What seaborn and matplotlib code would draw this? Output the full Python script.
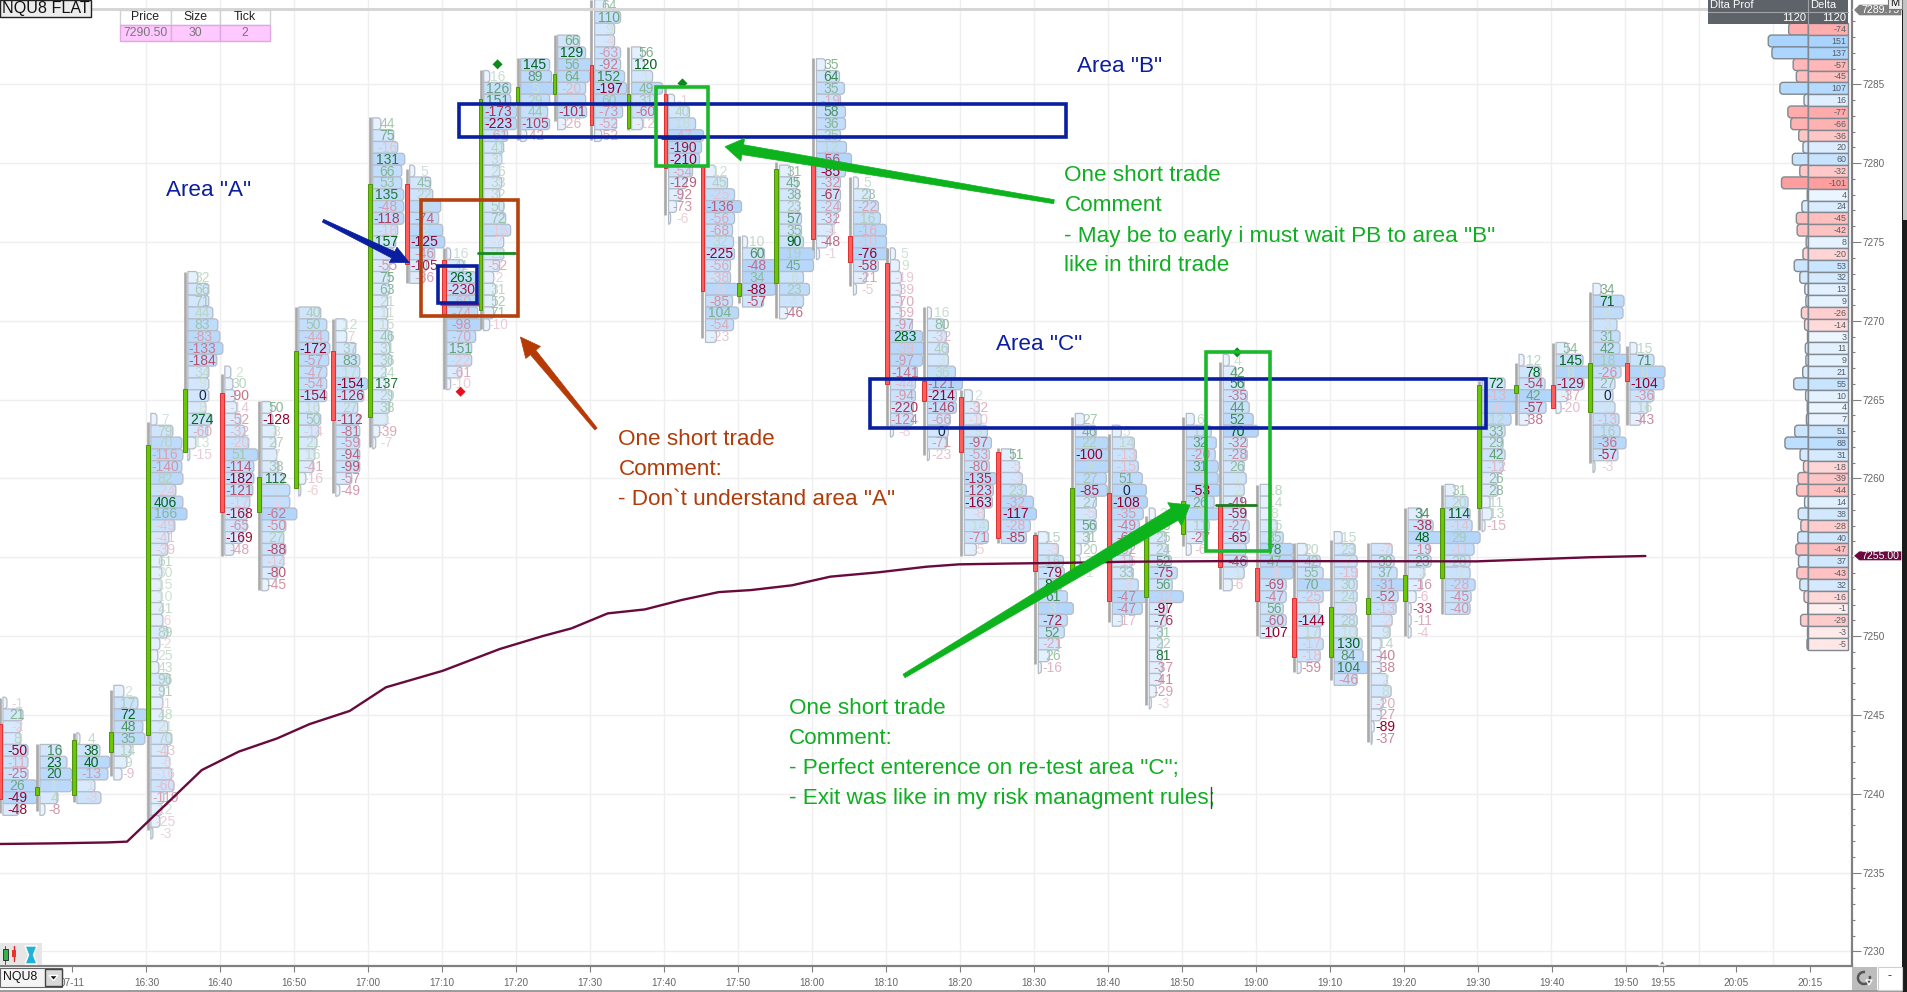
import matplotlib
matplotlib.use('Agg')
import matplotlib.pyplot as plt
import seaborn as sns
from matplotlib.path import Path
from matplotlib.patches import PathPatch, Rectangle, Polygon, Arc
from matplotlib.colors import to_rgb
import numpy as np

sns.set_theme(style='white')
plt.rcParams['font.family'] = ['Liberation Sans', 'DejaVu Sans']

# minutes since midnight for every 5 minute footprint bar, 16:10 -> 19:50
bar_times = list(range(970, 1195, 5))
bar_tops = [7245.75, 7242.75, 7243.5, 7246.5, 7263.75, 7272.75, 7266.75, 7264.5, 7270.5, 7269.75,
            7282.5, 7279.5, 7274.25, 7285.5, 7286.25, 7287.75, 7290, 7287, 7284, 7279.5,
            7275, 7279.5, 7286.25, 7278.75, 7274.25, 7270.5, 7265.25, 7261.5, 7256.25, 7263.75,
            7263, 7257.75, 7263.75, 7267.5, 7259.25, 7255.5, 7256.25, 7255.5, 7257.75, 7259.25,
            7266, 7267.5, 7268.25, 7272, 7268.25]
body_colors = ['r', 'g', 'g', 'g', 'g', 'g', 'r', 'g', 'g', 'r',
               'g', 'r', 'r', 'g', 'g', 'g', 'r', 'g', 'r', 'r',
               'g', 'g', 'r', 'r', 'r', 'r', 'r', 'r', 'r', 'g',
               'r', 'g', 'g', 'r', 'r', 'r', 'g', 'g', 'g', 'g',
               'g', 'g', 'r', 'g', 'r']
body_high = [7244.4, 7240.4, 7243.4, 7243.9, 7262.1, 7265.7, 7265.4, 7260.1, 7268.1, 7268.1,
             7278.7, 7278.7, 7273.85, 7284.1, 7284.85, 7285.65, 7286.2, 7284.4, 7284.4, 7279.8,
             7272.4, 7279.6, 7279.9, 7275.4, 7273.65, 7266.2, 7265.15, 7261.65, 7256.4, 7259.4,
             7259.1, 7256.4, 7258.6, 7258.3, 7254.35, 7252.4, 7251.85, 7252.4, 7253.9, 7258.1,
             7265.9, 7265.9, 7265.9, 7267.35, 7267.35]
body_low = [7239.65, 7239.95, 7239.95, 7242.65, 7243.7, 7261.7, 7257.9, 7257.9, 7259.4, 7263.7,
            7263.9, 7273.6, 7270.4, 7270.7, 7283.9, 7284.4, 7282.4, 7282.2, 7279.7, 7271.9,
            7271.6, 7272.4, 7275.2, 7273.7, 7266, 7264.9, 7261.7, 7256.2, 7254.15, 7254.15,
            7252.2, 7252.45, 7256.45, 7254.4, 7252.2, 7248.7, 7248.7, 7251.4, 7252.2, 7253.7,
            7258.15, 7265.45, 7264.45, 7264.2, 7266.15]
wick_high = [7246.1, 7243.15, 7243.85, 7246.6, 7263.6, 7273.1, 7266.6, 7264.9, 7270.9, 7270.1,
             7282.95, 7279.6, 7274.6, 7285.9, 7286.65, 7288.1, 7290.35, 7287.4, 7284.85, 7279.9,
             7275.4, 7280.1, 7286.65, 7279.1, 7274.6, 7270.9, 7265.6, 7261.9, 7256.6, 7263.9,
             7262.85, 7257.6, 7263.9, 7267.4, 7259.6, 7255.9, 7256.1, 7255.9, 7258.1, 7259.6,
             7266.2, 7267.35, 7268.6, 7271.85, 7268.4]
wick_low = [7238.75, 7238.9, 7239.45, 7241.1, 7237.7, 7261.8, 7255.1, 7252.9, 7259.4, 7259.1,
            7262, 7272.4, 7265.7, 7269.5, 7281.5, 7282.7, 7281.5, 7282.1, 7276.7, 7268.9,
            7271.1, 7270.2, 7274.5, 7272.2, 7263.3, 7261.5, 7255.1, 7255.9, 7248.2, 7254.2,
            7250.9, 7245.6, 7255.7, 7253, 7250, 7247.7, 7247.2, 7243.3, 7250, 7251.4,
            7256.7, 7263.4, 7264.45, 7260.95, 7263.4]

# delta per price row, top row first
bar_deltas = [
    [-1, 21, -2, 8, -50, -11, -25, 26, -49, -48],
    [16, 23, 20, 1, 4, -8],
    [4, 38, 40, -13, 1, -3],
    [2, 17, 72, 48, 35, 14, 9, -9],
    [7, 79, 70, -116, -140, 82, -24, 406, 166, -49, -41, -39, 61, 30, 15, 10, 41, -6, 89, -2, 25, 43, 96, 91, -1, 48, 21, 70, -43, -6, -16, -60, -119, 12, -25, -3],
    [32, 66, 71, 44, 83, -83, -133, -184, 34, 9, 0, 8, 274, -60, 13, -15],
    [2, 30, -90, -14, -52, -32, -20, 51, -114, -182, -121, -17, -168, -65, -169, -48],
    [50, -128, 8, 27, 7, 38, 112, 7, -2, -62, -50, 27, -88, -14, -80, -45],
    [40, 50, -44, -172, -57, -47, -54, -154, 16, 50, -14, 21, 16, -41, -16, -6],
    [12, -7, 37, 83, 17, -154, -126, 27, -112, -81, -59, -94, -99, -57, -49],
    [44, 75, -16, 131, 66, 53, 135, -48, -118, -18, 157, -9, -55, 75, 63, 21, 11, 15, 46, 31, 36, 24, 137, 29, 38, 1, -39, -7],
    [5, 45, 22, 10, -74, 2, -125, -46, -105, -36],
    [16, 41, 263, -230, -60, -74, -98, -70, 151, -22, -61, -10],
    [16, 126, 151, -173, -223, -61, 41, 31, 26, 33, 32, 50, 72, -15, -7, 22, -52, -2, 31, 52, 71, -10],
    [145, 89, 5, 29, 44, -105, -42],
    [66, 129, 56, 64, -20, -1, -101, -26],
    [64, 110, 9, -4, -63, -92, 152, -197, 60, -73, -52, -52],
    [56, 120, 1, 49, 31, -60, -12],
    [-1, 40, 18, -47, -190, -210, -54, -129, -92, -73, -6],
    [12, 45, -25, -136, -56, -68, 32, -225, -56, -38, -9, -85, 104, -54, -23],
    [10, 60, -48, 34, -88, -57],
    [31, 45, 38, 23, 57, 35, 90, 19, 45, 6, 23, 4, -46],
    [35, 64, 35, -19, 58, 36, 25, 12, -56, -85, -32, -67, -24, -32, -4, -48, -1],
    [5, 23, -22, 16, -16, -10, -76, -58, -21, -5],
    [5, 9, -19, -39, -70, -59, -97, 283, -39, -97, -141, -44, -94, -220, -124, -8],
    [16, 80, -32, 46, 3, 36, -121, -214, -146, -66, 0, -71, -23],
    [2, -32, -10, 9, -97, -53, -80, -135, -123, -163, -8, 14, -71, -5],
    [51, -5, -3, 23, -32, -117, -28, -85],
    [15, -3, 16, -79, 84, 61, 3, -72, 52, -21, 26, -16],
    [27, 46, 22, -100, 9, 27, -85, 27, -5, 56, 31, 20, 7, 1],
    [5, 14, -13, -15, 51, 0, -108, -35, -49, -63, -32, -15, 33, -3, -47, -47, -17],
    [2, 33, 25, 24, 52, -75, 56, -12, -97, -76, 31, 22, 81, -37, -41, -29, -3],
    [6, 11, 32, -20, 31, -3, -53, 26, 7, 11, -27, -6],
    [4, 42, 56, -35, 44, 52, 70, -32, -28, 26, 1, 2, -49, -59, -27, -65, -1, -46, 1, -6],
    [18, 14, 8, 15, 35, 78, 47, -6, -69, -47, 56, -60, -107],
    [20, 42, 55, 70, -25, -1, -144, 17, -17, -18, -59],
    [15, 23, 7, -19, 30, 24, -4, 28, 10, 130, 84, 104, -46],
    [-7, 39, 37, -31, -52, -13, -2, 9, 14, -40, -38, 2, 8, -20, -27, -89, -37],
    [34, -38, 48, -19, 23, 3, -16, -6, -33, -11, -4],
    [31, 20, 114, -14, 29, -11, 28, 3, -28, -45, -40],
    [72, -13, -6, 12, 33, 29, 42, -12, 26, 28, 11, 13, -15],
    [12, 78, -54, 42, -57, -38],
    [54, 145, 8, -129, -37, -20],
    [34, 71, 4, 3, 31, 42, 18, -26, 27, 0, 2, -13, 16, -36, -57, -3],
    [15, 71, 8, -104, -36, 16, -43],
]
# volume profile length per row (same order)
bar_sizes = [
    [4, 20, 18, 18, 25, 25, 25, 34, 34, 16],
    [21, 27, 32, 32, 18, 5],
    [3, 23, 33, 31, 18, 24],
    [10, 24, 33, 29, 31, 17, 13, 8],
    [6, 22, 31, 32, 31, 32, 25, 32, 36, 24, 18, 17, 11, 11, 11, 11, 12, 12, 17, 9, 7, 8, 19, 13, 12, 12, 17, 21, 17, 19, 21, 23, 13, 11, 9, 2],
    [10, 21, 21, 25, 30, 32, 35, 29, 21, 21, 21, 18, 24, 20, 8, 2],
    [6, 8, 10, 12, 16, 20, 24, 33, 29, 29, 28, 25, 23, 22, 18, 9],
    [10, 11, 14, 14, 15, 17, 22, 28, 28, 35, 24, 22, 24, 22, 16, 7],
    [22, 28, 30, 31, 30, 28, 28, 28, 20, 22, 20, 18, 16, 15, 7, 2],
    [11, 11, 20, 24, 24, 32, 28, 22, 24, 24, 24, 24, 24, 16, 4],
    [8, 21, 25, 32, 29, 29, 31, 31, 31, 25, 23, 21, 17, 17, 17, 15, 15, 15, 19, 17, 19, 13, 13, 19, 17, 15, 7, 3],
    [5, 21, 23, 31, 29, 33, 35, 25, 17, 15],
    [4, 17, 29, 29, 33, 31, 35, 29, 25, 25, 15, 4],
    [6, 27, 27, 33, 33, 24, 20, 18, 16, 18, 16, 20, 22, 27, 20, 20, 16, 10, 12, 12, 10, 6],
    [29, 31, 35, 29, 27, 29, 6],
    [22, 28, 34, 32, 28, 28, 29, 8],
    [11, 26, 20, 20, 26, 26, 30, 32, 34, 28, 22, 7],
    [11, 13, 21, 31, 23, 25, 11],
    [6, 21, 27, 35, 33, 31, 24, 18, 14, 8, 2],
    [10, 22, 29, 36, 29, 27, 28, 29, 25, 25, 33, 27, 33, 28, 11],
    [5, 22, 35, 35, 33, 21],
    [11, 18, 20, 20, 22, 22, 24, 35, 34, 24, 30, 24, 8],
    [9, 23, 28, 24, 29, 29, 24, 30, 35, 29, 24, 24, 24, 20, 16, 11, 3],
    [5, 17, 25, 27, 33, 33, 35, 25, 13, 3],
    [5, 9, 11, 11, 11, 11, 22, 32, 34, 32, 27, 25, 25, 23, 23, 3],
    [4, 17, 19, 21, 21, 28, 35, 29, 29, 23, 21, 19, 2],
    [8, 15, 17, 23, 27, 25, 25, 32, 29, 28, 20, 24, 24, 12],
    [12, 18, 21, 25, 32, 35, 29, 25],
    [10, 20, 25, 26, 23, 29, 35, 29, 26, 21, 11, 3],
    [9, 21, 33, 34, 34, 31, 32, 21, 21, 21, 14, 6, 5, 1],
    [9, 22, 24, 26, 30, 34, 35, 31, 27, 23, 19, 20, 21, 26, 34, 30, 10],
    [6, 11, 17, 18, 22, 28, 23, 34, 18, 17, 13, 13, 13, 13, 12, 7, 2],
    [8, 25, 30, 29, 32, 32, 34, 28, 33, 23, 17, 5],
    [6, 13, 21, 24, 26, 30, 35, 24, 24, 21, 23, 21, 19, 23, 26, 26, 23, 24, 21, 9],
    [10, 10, 10, 17, 23, 33, 33, 33, 26, 26, 23, 26, 13],
    [10, 23, 26, 34, 26, 22, 26, 23, 26, 23, 4],
    [8, 21, 23, 23, 23, 23, 22, 23, 23, 28, 29, 34, 23],
    [21, 23, 26, 34, 27, 25, 21, 19, 10, 10, 10, 16, 20, 12, 10, 3, 1],
    [14, 25, 34, 21, 23, 16, 14, 8, 3, 3, 3],
    [10, 23, 25, 27, 35, 29, 25, 25, 30, 26, 25],
    [23, 35, 34, 29, 23, 21, 23, 21, 16, 16, 8, 10, 3],
    [5, 22, 26, 36, 27, 10],
    [12, 27, 37, 28, 12, 5],
    [8, 31, 30, 24, 27, 27, 35, 28, 22, 20, 22, 26, 27, 33, 25, 2],
    [7, 24, 35, 34, 24, 18, 11],
]

# VWAP style line
vwap_times = [970, 977.2, 984.6, 987.2, 997.3, 1002.3, 1007.5, 1011.9, 1017.3, 1022.2, 1029.9, 1037.6, 1043.4, 1047.3,
              1052.2, 1057.2, 1062.2, 1067.2, 1071.6, 1077.1, 1082.3, 1088.7, 1095.3, 1099.7, 1106.3, 1114.6, 1122.8,
              1137.7, 1169.7, 1177.3, 1185, 1192.5]
vwap_prices = [7236.81, 7236.85, 7236.91, 7236.96, 7241.5, 7242.67, 7243.51, 7244.42, 7245.25, 7246.75, 7247.8, 7249.18,
               7250.0, 7250.49, 7251.44, 7251.69, 7252.29, 7252.79, 7252.92, 7253.22, 7253.77, 7254.04, 7254.4, 7254.55,
               7254.6, 7254.65, 7254.72, 7254.76, 7254.74, 7254.87, 7255.0, 7255.08]

# session delta profile on the right
delta_top = 7288.5
delta_values = [-74, 151, 137, -57, -45, 107, 16, -77, -66, -36, 20, 60, -32, -101, 4, 24, -45, -42, 8, -20,
                53, 32, 13, 9, -26, -14, 3, 11, 9, 21, 55, 10, 4, 7, 51, 88, 31, -18, -39, -44,
                14, 38, -28, 40, -47, 37, -43, 32, -16, -1, -29, -3, -5]

marker_times = [1032.3, 1037.3, 1062.3, 1137.3]
marker_prices = [7265.5, 7286.27, 7285.06, 7268.0]
marker_kinds = ['red', 'green', 'green', 'green']

tick_times = list(range(980, 1191, 10)) + [1195, 1205, 1215]
tick_labels = ['07-11'] + ['%d:%02d' % (m // 60, m % 60) for m in range(990, 1191, 10)] + ['19:55', '20:05', '20:15']
grid_times = list(range(990, 1211, 10)) + [1195]

PX_W, PX_H = 1908, 992
AX_R, AX_B = 1851.7, 965.7
T0 = 970.02
T1 = 1220.4
P_TOP = 7290.35
P_BOT = 7229.09
ROW = 0.75
PX_MIN = AX_R / (T1 - T0)


def mix(color, base, f):
    c, b = np.array(to_rgb(color)), np.array(to_rgb(base))
    return tuple(b + (c - b) * f)


def delta_color(v, top):
    # the platform shades each number against the biggest delta of its own bar
    if v == 0:
        return '#16284a'
    f = 0.17 + 0.83 * (abs(v) / top) ** 1.15
    return mix('#00631c' if v > 0 else '#93002a', '#ffffff', f)


def row_patch(ax, x0, price, w, face, edge, sign=1, lw=0.9, z=2):
    # profile row: flat at the candle side, rounded at the far end
    top, bot = price + ROW / 2, price - ROW / 2
    rx = min(abs(w), 0.42) * sign
    ry = 0.2
    x1 = x0 + w * sign
    verts = [(x0, bot), (x1 - rx, bot), (x1, bot), (x1, bot + ry), (x1, top - ry), (x1, top), (x1 - rx, top), (x0, top), (x0, bot)]
    codes = [Path.MOVETO, Path.LINETO, Path.CURVE3, Path.CURVE3, Path.LINETO, Path.CURVE3, Path.CURVE3, Path.LINETO, Path.CLOSEPOLY]
    ax.add_patch(PathPatch(Path(verts, codes), facecolor=face, edgecolor=edge, lw=lw, zorder=z))


fig = plt.figure(figsize=(PX_W / 100, PX_H / 100), dpi=100, facecolor='white')
ax = fig.add_axes([0, (PX_H - AX_B) / PX_H, AX_R / PX_W, AX_B / PX_H])
ax.set_xlim(T0, T1)
ax.set_ylim(P_BOT, P_TOP)
ax.set_facecolor('white')

for t in grid_times:
    ax.axvline(t - 0.2, color='#efefef', lw=1.0, zorder=0)
for p in range(7230, 7290, 5):
    ax.axhline(p, color='#efefef', lw=1.0, zorder=0)

# footprint bars
for i, t in enumerate(bar_times):
    for j, (d, s) in enumerate(zip(bar_deltas[i], bar_sizes[i])):
        price = bar_tops[i] - ROW * j
        f = min(s / 36, 1) ** 1.4
        row_patch(ax, t + 0.42, price, s / PX_MIN, mix('#b2d5fb', '#eff6fe', f), '#b4bcc8', z=2 + i * 0.001)
    biggest = max(abs(d) for d in bar_deltas[i])
    for j, d in enumerate(bar_deltas[i]):
        ax.text(t + 2.35, bar_tops[i] - ROW * j - 0.03, str(d), color=delta_color(d, biggest), fontsize=10,
                ha='center', va='center', zorder=3, clip_on=True)
    ax.plot([t, t], [wick_low[i], wick_high[i]], color='#a9a9a9', lw=1.9, solid_capstyle='butt', zorder=3.5)
    up = body_colors[i] == 'g'
    ax.bar(t, body_high[i] - body_low[i], bottom=body_low[i], width=0.52,
           color='#69c800' if up else '#ff5c5c', edgecolor='#4f8f12' if up else '#d93030', lw=0.7, zorder=4)

sns.lineplot(x=vwap_times, y=vwap_prices, color='#680a3c', lw=1.7, ax=ax, legend=False, zorder=4.5, estimator=None)

marker_df = {'t': marker_times, 'p': marker_prices, 'k': marker_kinds}
sns.scatterplot(data=marker_df, x='t', y='p', hue='k', palette={'red': '#e8101c', 'green': '#0b8a1a'}, marker='D', s=26,
                edgecolor='none', ax=ax, legend=False, zorder=5)

# trade marks
ax.plot([1029.6, 1034.7], [7271.07, 7271.07], color='#ee1c25', lw=2, zorder=5)
ax.plot([1034.6, 1039.6], [7274.3, 7274.3], color='#168a1e', lw=2, zorder=5)
ax.plot([1059.6, 1064.7], [7281.6, 7281.6], color='#0b3d22', lw=2, zorder=5)
ax.plot([1134.5, 1139.8], [7258.3, 7258.3], color='#1f7a1f', lw=2, zorder=5)

# delta column, right hand side
d_x0 = 990 + (1808.3 - 147.8) / PX_MIN
d_w = 40 / PX_MIN
for i, v in enumerate(delta_values):
    price = delta_top - ROW * i
    f = min(abs(v) / 150, 1) ** 0.55
    face = mix('#a8d4ff', '#f6faff', f) if v >= 0 else mix('#ff9c9c', '#fff5f5', min(abs(v) / 105, 1) ** 0.6)
    row_patch(ax, d_x0, price, abs(v) * 0.265 / PX_MIN, face, '#808890', sign=-1, lw=1.0, z=3)
    ax.add_patch(Rectangle((d_x0, price - ROW / 2), d_w, ROW, facecolor=face, edgecolor='#808890', lw=1.0, zorder=3.1))
    ax.text(d_x0 + d_w - 0.2, price - 0.03, str(v), color='#555b60', fontsize=6.4, ha='right', va='center', zorder=3.2)

# hand drawn boxes
boxes = [(1032.1, 1114.2, 7281.68, 7283.75, '#0a1ea0'),
         (1087.7, 1171.0, 7263.2, 7266.3, '#0a1ea0'),
         (1029.2, 1034.5, 7271.15, 7273.5, '#0a1ea0'),
         (1027.0, 1040.0, 7270.3, 7277.66, '#b5410f'),
         (1058.7, 1065.8, 7279.84, 7284.85, '#1cb82c'),
         (1133.1, 1141.7, 7255.4, 7268.0, '#1cb82c')]
for x0, x1, y0, y1, c in boxes:
    ax.add_patch(Rectangle((x0, y0), x1 - x0, y1 - y0, fill=False, edgecolor=c, lw=2.6, zorder=6))

# axes
sns.despine(ax=ax, left=True, top=True, right=False, bottom=False)
for s in ('right', 'bottom'):
    ax.spines[s].set_color('#808080')
    ax.spines[s].set_linewidth(1.6)
ax.yaxis.tick_right()
ax.set_yticks(list(range(7230, 7290, 5)))
ax.set_yticks(list(range(7230, 7290)), minor=True)
ax.tick_params(axis='y', which='major', right=True, length=6.5, width=0.8, color='#808080', labelsize=7.2, labelcolor='#666666', pad=1)
ax.tick_params(axis='y', which='minor', right=True, length=2.4, width=0.8, color='#808080')
ax.set_xticks([t - 0.18 for t in tick_times])
ax.set_xticklabels(tick_labels)
ax.tick_params(axis='x', which='major', bottom=True, length=4.5, width=0.8, color='#808080', labelsize=7.2, labelcolor='#666666', pad=4.5)

# everything else is screen furniture, laid out in pixels
ui = fig.add_axes([0, 0, 1, 1], zorder=5)
ui.set_xlim(0, PX_W)
ui.set_ylim(PX_H, 0)
ui.axis('off')
ui.patch.set_alpha(0)


def box(x0, y0, x1, y1, face, edge='none', lw=0.8, z=1):
    ui.add_patch(Rectangle((x0, y0), x1 - x0, y1 - y0, facecolor=face, edgecolor=edge, lw=lw, zorder=z))


def arrow(x0, y0, x1, y1, w0, w1, hl, hw, color):
    # shaft widens toward the head, like the drawing tool of the platform
    d = np.array([x1 - x0, y1 - y0], float)
    d /= np.hypot(*d)
    n = np.array([-d[1], d[0]])
    a, b = np.array([x0, y0]), np.array([x1, y1])
    neck = b - d * hl
    pts = [a + n * w0 / 2, neck + n * w1 / 2, neck + n * hw / 2, b, neck - n * hw / 2, neck - n * w1 / 2, a - n * w0 / 2]
    ui.add_patch(Polygon(pts, closed=True, facecolor=color, edgecolor=color, lw=0.5, zorder=3))


box(0, 7.5, 1708, 11, '#d6d6d6', z=0.5)
box(0, 0, 91, 16.5, '#ececec', '#222222', 1.0)
ui.text(2, 8.5, 'NQU8 FLAT', fontsize=11.6, color='#111111', ha='left', va='center')

# quote table
tab_x = [120.4, 170.6, 220.4, 270]
for i, (h, v) in enumerate(zip(['Price', 'Size', 'Tick'], ['7290.50', '30', '2'])):
    box(tab_x[i], 9.5, tab_x[i + 1], 25, 'white', '#d2d2d2', 1.0)
    box(tab_x[i], 25, tab_x[i + 1], 41.3, '#ffc8ff', '#e0a8e0', 1.0)
    mid = (tab_x[i] + tab_x[i + 1]) / 2
    ui.text(mid, 17.3, h, fontsize=8.8, color='#222222', ha='center', va='center')
    ui.text(mid, 33.2, v, fontsize=8.8, color='#777777', ha='center', va='center')

# delta header
box(1708.3, 0, 1848.3, 24.3, '#5e6269')
ui.plot([1708.3, 1848.3], [11.8, 11.8], color='#a0a4a8', lw=0.8)
ui.plot([1808.3, 1808.3], [0, 24.3], color='#a0a4a8', lw=0.8)
ui.text(1710.5, 5.5, 'Dlta Prof', fontsize=8, color='white', va='center')
ui.text(1810.5, 5.5, 'Delta', fontsize=8, color='white', va='center')
ui.text(1806, 18, '1120', fontsize=8, color='white', ha='right', va='center')
ui.text(1846, 18, '1120', fontsize=8, color='white', ha='right', va='center')

# price tags and right border
ui.add_patch(Polygon([(1853, 10), (1859, 4), (1902, 4), (1902, 16), (1859, 16)], facecolor='#7f7f7f', zorder=2))
ui.text(1861, 10.3, '7289.75', fontsize=7.6, color='white', va='center', zorder=3)
box(1888, -1, 1902, 8.5, '#efefef', '#777777', z=3)
ui.text(1895, 3.5, 'M', fontsize=8, color='#111111', ha='center', va='center', zorder=4)
ui.add_patch(Polygon([(1853, 555.8), (1859, 550.7), (1902, 550.7), (1902, 561), (1859, 561)], facecolor='#6b0a40', zorder=2))
ui.text(1861, 556, '7255.00', fontsize=7.6, color='white', va='center', zorder=3)
box(1902.5, 0, 1908, 992, '#1c1c1c', z=2)
box(1903, 0, 1908, 220, '#c4c4c4', z=2.5)

# bottom strip
ui.plot([0, 1902], [990.5, 990.5], color='#9a9a9a', lw=1.4)
box(0, 943, 42, 965, '#e6e6e6')
ui.plot([5.5, 5.5], [946, 964], color='#555555', lw=0.7, zorder=2)
box(3, 949, 8, 960, '#35b34a', '#222222', 0.6, z=2)
ui.plot([14, 14], [946, 961], color='#d8242a', lw=1.0, zorder=2)
box(12, 950, 16, 957, '#e8342a', z=2)
ui.add_patch(Polygon([(25, 946), (37, 946), (33.5, 955), (37, 964), (25, 964), (28.5, 955)], facecolor='#20b2d8', zorder=2))
box(0, 968, 62, 986.5, '#f4f4f4', '#666666', 0.8, z=3)
box(45, 969, 62, 986, '#d8d8d8', '#444444', 1.0, z=4)
ui.add_patch(Polygon([(49, 975.5), (58, 975.5), (53.5, 980.5)], facecolor='#111111', zorder=5))
ui.text(3, 977.3, 'NQU8', fontsize=8.8, color='#111111', va='center', zorder=5)
ui.add_patch(Polygon([(1658.5, 965), (1662.3, 960), (1666, 965)], facecolor='#8a8a8a', zorder=2))
box(1852.5, 966.5, 1877, 989.5, '#bdbdbd', z=2)
ui.add_patch(Arc((1864, 978), 12, 12, theta1=-20, theta2=280, color='#555555', lw=1.8, zorder=3))
ui.add_patch(Polygon([(1866, 980), (1872, 980), (1869, 985)], facecolor='#555555', zorder=3))
box(1878, 966.5, 1902, 989.5, 'white', '#cfcfcf', z=2)
ui.text(1890, 976.5, '-', fontsize=9, color='#333333', ha='center', va='center', zorder=3)

# notes
AN_BLUE, AN_GREEN, AN_RED = '#0c1e9e', '#10ae22', '#b03c0a'
notes = [(166, 190, 'Area "A"', AN_BLUE),
         (1077.5, 67, 'Area "B"', AN_BLUE),
         (996.3, 344, 'Area "C"', AN_BLUE),
         (1064.5, 175.5, 'One short trade', AN_GREEN),
         (1064.5, 205.5, 'Comment', AN_GREEN),
         (1064.5, 236.5, '- May be to early i must wait PB to area "B"', AN_GREEN),
         (1064.5, 265.5, 'like in third trade', AN_GREEN),
         (618.4, 439.5, 'One short trade', AN_RED),
         (618.4, 469.5, 'Comment:', AN_RED),
         (618.4, 499.5, '- Don`t understand area "A"', AN_RED),
         (788.6, 708.5, 'One short trade', AN_GREEN),
         (788.6, 738.5, 'Comment:', AN_GREEN),
         (788.6, 768.5, '- Perfect enterence on re-test area "C";', AN_GREEN),
         (788.6, 798.5, '- Exit was like in my risk managment rules;', AN_GREEN)]
for x, y, s, c in notes:
    ui.text(x, y, s, fontsize=16.2, color=c, ha='left', va='center', zorder=4)
ui.plot([1211, 1211], [787, 808], color='#444444', lw=1.0, zorder=4)

arrow(323, 220.7, 409.4, 262.7, 3, 7, 18, 17, '#0a1ea0')
arrow(596, 429, 520.4, 337, 3, 7, 20, 19, '#b53a05')
arrow(1054, 201.7, 725, 146.7, 4, 10, 18, 23, '#0db31d')
arrow(904, 676, 1190, 505, 4, 14, 18, 27, '#0db31d')

fig.savefig('out.png', dpi=100)
